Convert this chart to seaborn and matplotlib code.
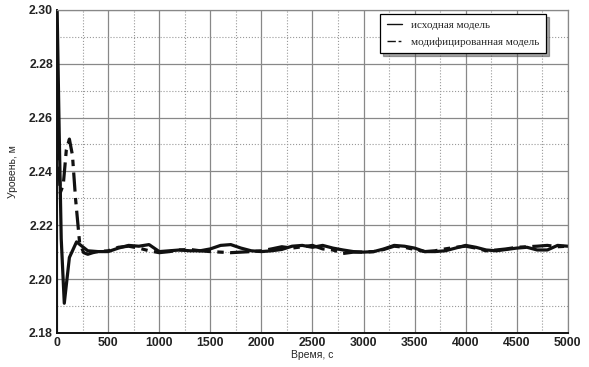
import numpy as np
import pandas as pd
import seaborn as sns
import matplotlib.pyplot as plt
from matplotlib.ticker import MultipleLocator

# исходная модель
t_base = [0, 20, 40, 70, 120, 190, 300, 400, 500, 600, 700, 800, 900, 1000,
          1100, 1200, 1300, 1400, 1500, 1600, 1700, 1800, 1900, 2000, 2100,
          2200, 2300, 2400, 2500, 2600, 2700, 2800, 2900, 3000, 3100, 3200,
          3300, 3400, 3500, 3600, 3700, 3800, 3900, 4000, 4100, 4200, 4300,
          4400, 4500, 4600, 4700, 4800, 4900, 5000]
h_base = [2.300, 2.255, 2.215, 2.191, 2.208, 2.2138, 2.2105, 2.2102, 2.2102,
          2.2115, 2.2125, 2.2122, 2.2128, 2.2102, 2.2105, 2.2108, 2.2105,
          2.2105, 2.2112, 2.2125, 2.2128, 2.2115, 2.2105, 2.2102, 2.2105,
          2.2110, 2.2122, 2.2125, 2.2118, 2.2125, 2.2115, 2.2108, 2.2102,
          2.2100, 2.2102, 2.2112, 2.2125, 2.2122, 2.2115, 2.2102, 2.2102,
          2.2105, 2.2115, 2.2125, 2.2118, 2.2108, 2.2105, 2.2110, 2.2115,
          2.2118, 2.2108, 2.2108, 2.2125, 2.2122]

# модифицированная модель
t_mod = [0, 30, 60, 90, 120, 150, 180, 220, 260, 300, 350, 400, 500, 600,
         700, 800, 900, 1000, 1100, 1200, 1300, 1400, 1500, 1600, 1700, 1800,
         1900, 2000, 2100, 2200, 2300, 2400, 2500, 2600, 2700, 2800, 2900,
         3000, 3100, 3200, 3300, 3400, 3500, 3600, 3700, 3800, 3900, 4000,
         4100, 4200, 4300, 4400, 4500, 4600, 4700, 4800, 4900, 5000]
h_mod = [2.256, 2.232, 2.235, 2.248, 2.252, 2.246, 2.230, 2.2135, 2.2098,
         2.2092, 2.2098, 2.2102, 2.2105, 2.2118, 2.2122, 2.2115, 2.2105,
         2.2098, 2.2102, 2.2108, 2.2110, 2.2105, 2.2102, 2.2100, 2.2098,
         2.2100, 2.2102, 2.2105, 2.2112, 2.2120, 2.2115, 2.2120, 2.2125,
         2.2112, 2.2108, 2.2095, 2.2100, 2.2100, 2.2102, 2.2110, 2.2122,
         2.2118, 2.2110, 2.2102, 2.2105, 2.2112, 2.2118, 2.2122, 2.2115,
         2.2105, 2.2108, 2.2112, 2.2118, 2.2120, 2.2122, 2.2125, 2.2120,
         2.2122]

df_base = pd.DataFrame({'t': t_base, 'h': h_base})
df_mod = pd.DataFrame({'t': t_mod, 'h': h_mod})

sns.set_style('white')
plt.rcParams['font.family'] = ['Liberation Sans', 'DejaVu Sans']

fig = plt.figure(figsize=(5.89, 3.67), dpi=100)
ax = fig.add_axes([0.097, 0.093, 0.867, 0.88])

sns.lineplot(data=df_base, x='t', y='h', ax=ax, color='#111111', lw=2.3,
             label='исходная модель')
sns.lineplot(data=df_mod, x='t', y='h', ax=ax, color='#111111', lw=2.3,
             linestyle=(0, (6, 2, 2, 2)), label='модифицированная модель')

ax.set_xlim(0, 5000)
ax.set_ylim(2.18, 2.30)
ax.xaxis.set_major_locator(MultipleLocator(500))
ax.xaxis.set_minor_locator(MultipleLocator(250))
ax.yaxis.set_major_locator(MultipleLocator(0.02))
ax.yaxis.set_minor_locator(MultipleLocator(0.01))
ax.yaxis.set_major_formatter(plt.FormatStrFormatter('%.2f'))
ax.grid(which='major', color='#888888', lw=0.9, ls='-')
ax.grid(which='minor', color='#999999', lw=0.8, ls=':')
ax.set_axisbelow(True)

for s in ['top', 'right']:
    ax.spines[s].set_color('#888888')
    ax.spines[s].set_linewidth(0.9)
for s in ['left', 'bottom']:
    ax.spines[s].set_color('#111111')
    ax.spines[s].set_linewidth(1.4)

ax.tick_params(which='both', length=0, labelsize=8.8, pad=3,
               labelcolor='#222222')
for lab in ax.get_xticklabels() + ax.get_yticklabels():
    lab.set_fontweight('bold')
ax.set_xlabel('Время, с', fontsize=7.5, labelpad=1)
ax.set_ylabel('Уровень, м', fontsize=7.5, labelpad=8)

leg = ax.legend(loc='upper right', bbox_to_anchor=(0.958, 0.988),
                borderaxespad=0,
                prop={'family': 'Liberation Serif', 'size': 8},
                frameon=True, fancybox=False, shadow=True,
                handlelength=1.4, borderpad=0.6, labelspacing=0.6)
leg.get_frame().set_edgecolor('black')
leg.get_frame().set_linewidth(0.9)
for line in leg.get_lines():
    line.set_linewidth(1.0)

fig.savefig('out.png', dpi=100)
